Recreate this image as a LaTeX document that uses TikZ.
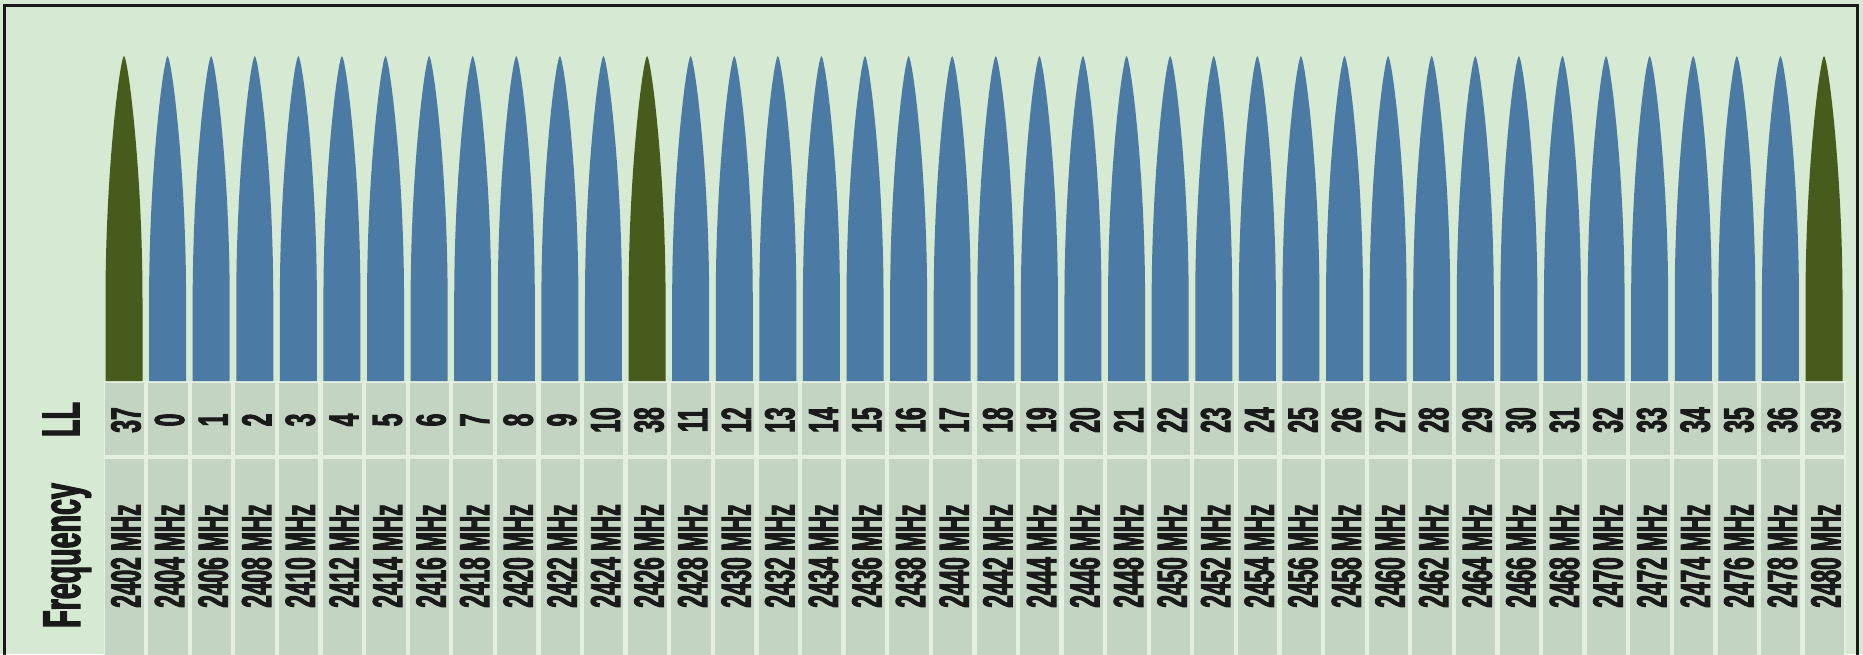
\documentclass[tikz,border=0pt]{standalone}
\usepackage{fontspec}
\newfontfamily\numfont[FakeStretch=0.54,FakeBold=2.2]{Liberation Sans Bold}
\newfontfamily\labfont[FakeStretch=0.54,FakeBold=2.2]{Liberation Sans Bold}
\definecolor{bg}{HTML}{D6E9D2}
\definecolor{cellc}{HTML}{C4D4C3}
\definecolor{gapc}{HTML}{E4EFE2}
\definecolor{barblue}{HTML}{4B7AA4}
\definecolor{bargreen}{HTML}{475B1D}
\definecolor{ink}{HTML}{1A1A1A}
\tikzset{
  numtxt/.style={rotate=90, inner sep=0pt, text=ink,
    font=\numfont\fontsize{42}{46}\selectfont},
  labtxt/.style={rotate=90, inner sep=0pt, text=ink,
    font=\labfont\fontsize{53}{60}\selectfont},
  cellbox/.style={fill=cellc},
}
\begin{document}
\begin{tikzpicture}[x=1pt,y=-1pt]
\fill[bg] (0,0) rectangle (1863,654);
\useasboundingbox (0,0) rectangle (1863,654);
\draw[ink, line width=3pt] (4,660) -- (4,5) -- (1857,5) -- (1857,660);
% table band (light separators)
\fill[gapc] (104,381) rectangle (1846,660);
\foreach \ll [count=\i from 0] in {37,0,1,2,3,4,5,6,7,8,9,10,38,11,12,13,14,15,16,17,18,19,20,21,22,23,24,25,26,27,28,29,30,31,32,33,34,35,36,39}{
  \pgfmathsetmacro\cx{124+\i*43.59}
  \pgfmathtruncatemacro\fr{2402+2*\i}
  \ifnum\ll>36 \def\bc{bargreen}\else\def\bc{barblue}\fi
  \fill[\bc] (\cx-18.5,381) -- (\cx-18.5,300)
     .. controls (\cx-18.5,170) and (\cx-4,58) .. (\cx,56)
     .. controls (\cx+4,58) and (\cx+18.5,170) .. (\cx+18.5,300)
     -- (\cx+18.5,381) -- cycle;
  \fill[cellbox] (\cx-19.3,383) rectangle (\cx+20,455);
  \fill[cellbox] (\cx-19.3,459) rectangle (\cx+20,660);
  \node[numtxt] (ll\i) at (\cx+2,420) {\ll};
  \node[numtxt] (fq\i) at (\cx+2,556) {\fr\ MHz};
}
\node[labtxt] (lllab) at (61,419.5) {LL};
\node[labtxt, anchor=base] (freqlab) at (80,555.5) {Frequency};
\end{tikzpicture}
\end{document}
